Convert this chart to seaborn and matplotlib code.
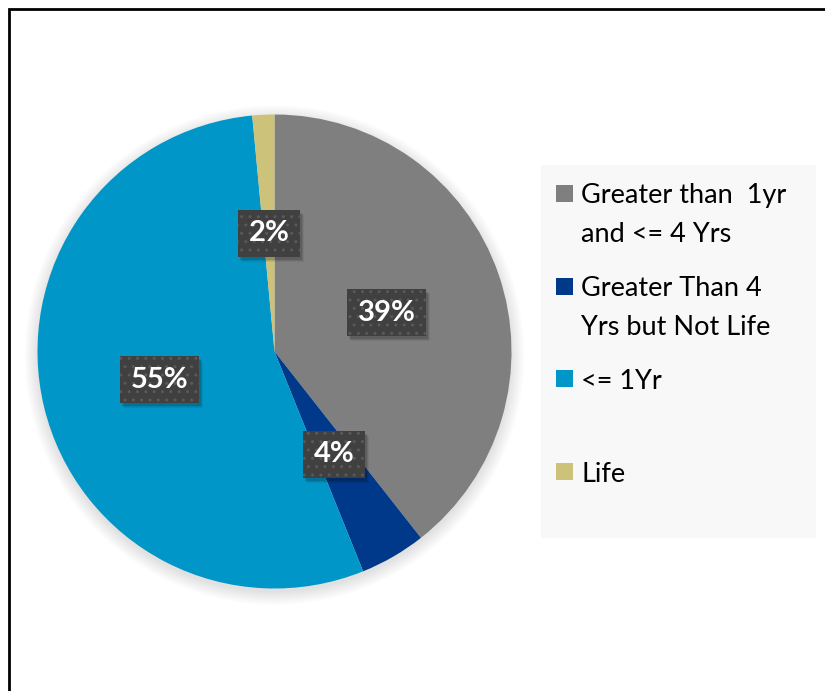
import matplotlib
matplotlib.use("Agg")
import matplotlib.pyplot as plt
from matplotlib.patches import Rectangle, Circle
from matplotlib.transforms import IdentityTransform
import seaborn as sns

# data
categories = ["Greater than  1yr\nand <= 4 Yrs", "Greater Than 4\nYrs but Not Life", "<= 1Yr", "Life"]
shares = [39.4, 4.5, 54.6, 1.5]
colors = ["#7f7f7f", "#00388a", "#0096c8", "#cdc27a"]

sns.set_theme(style="white")
plt.rcParams["font.family"] = ["Lato", "DejaVu Sans"]

W, H = 825, 691
fig = plt.figure(figsize=(W / 100, H / 100), dpi=100)
fig.patch.set_facecolor("white")

# pie axes placed in pixel terms
cx, cy, r = 274.5, 351.5, 237
lim = 1.12
ax = fig.add_axes([(cx - r * lim) / W, (H - cy - r * lim) / H, 2 * r * lim / W, 2 * r * lim / H])

# soft shadow behind the pie
for k in range(10):
    ax.add_patch(Circle((0, -0.015), 1.0 + 0.006 * k, color="black", alpha=0.012, lw=0, zorder=0))

wedges, texts, autotexts = ax.pie(
    shares, colors=colors, startangle=90, counterclock=False,
    autopct=lambda p: f"{round(p):.0f}%", pctdistance=0.5,
    wedgeprops=dict(linewidth=0),
    textprops=dict(color="white", fontsize=21, fontweight="bold"),
)
for w in wedges:
    w.set_zorder(2)

for t in autotexts:
    t.set_zorder(5)
    t.set_bbox(dict(boxstyle="square,pad=0.36", facecolor="#404040", edgecolor="#595959",
                    hatch="..", linewidth=0))

ax.set_xlim(-lim, lim)
ax.set_ylim(-lim, lim)
ax.set_axis_off()

# drop shadows under the label boxes, sized from the drawn boxes
fig.canvas.draw()
for t in autotexts:
    bb = t.get_bbox_patch().get_window_extent()
    for j, a in enumerate([0.12, 0.09, 0.06]):
        d = 2 + j
        ax.add_artist(Rectangle((bb.x0 + d, bb.y0 - d - 1), bb.width, bb.height,
                                transform=IdentityTransform(), facecolor="black", alpha=a,
                                edgecolor="none", zorder=3, clip_on=False))

# legend drawn by hand so the marker sits on the first line
fig.add_artist(Rectangle((541 / W, 1 - 538 / H), (816 - 541) / W, (538 - 165) / H,
                         transform=fig.transFigure, facecolor="#f8f8f8", edgecolor="none", zorder=1))
y0, step, line_h = 193.5, 92.7, 38.5
for i, (lab, col) in enumerate(zip(categories, colors)):
    yc = y0 + i * step
    fig.add_artist(Rectangle((556 / W, 1 - (yc + 8.5) / H), 17 / W, 17 / H,
                             transform=fig.transFigure, facecolor=col, edgecolor="none", zorder=2))
    for k, line in enumerate(lab.split("\n")):
        fig.text(581 / W, 1 - (yc + k * line_h) / H, line, fontsize=19.5, color="black",
                 va="center_baseline", ha="left", zorder=3)

# outer frame
fig.add_artist(Rectangle((9 / W, -0.1), 1.2, (H - 9) / H + 0.1, transform=fig.transFigure,
                         fill=False, edgecolor="black", linewidth=2, zorder=10))

fig.savefig("out.png", dpi=100)
